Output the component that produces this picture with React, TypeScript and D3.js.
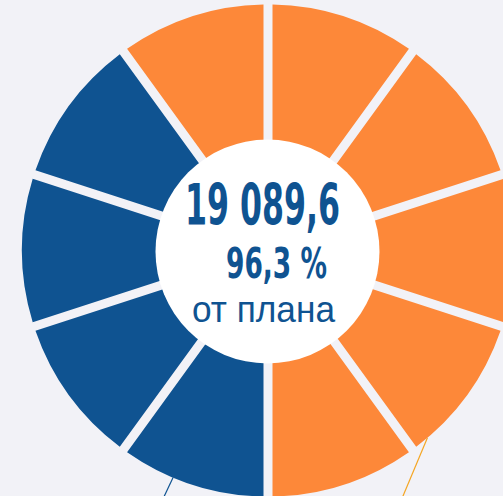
import React from "react";
import * as d3 from "d3";

// ---- data ----
const segmentValues = [1, 1, 1, 1, 1, 1, 1, 1, 1, 1];
const segmentSeries = ["fact", "fact", "fact", "fact", "fact", "fact", "rest", "rest", "rest", "rest"];
const totalLabel = "19 089,6";
const percentLabel = "96,3 %";
const captionLabel = "от плана";
// leader lines of (off-screen) labels: angle on the rim in degrees (clockwise from top)
const leaderAngles = [202.7, 139.6];
const leaderSeries = ["rest", "fact"];
const leaderSlopes = [-0.47, -0.42];

const W = 503;
const H = 496;
const cx = 268;
const cy = 250.5;
const outerR = 246;
const innerR = 90;
const holeR = 112;
const gap = 9;
const startDeg = -36;

const colors: Record<string, string> = { fact: "#FD8839", rest: "#0F5391" };
const leaderColors: Record<string, string> = { fact: "#F5A623", rest: "#0F5391" };
const bg = "#F2F2F7";

export default function App() {
  const pie = d3
    .pie<number>()
    .sort(null)
    .value((d) => d)
    .startAngle((startDeg * Math.PI) / 180)
    .endAngle(((startDeg + 360) * Math.PI) / 180);
  const arcs = pie(segmentValues);
  const arc = d3
    .arc<d3.PieArcDatum<number>>()
    .innerRadius(innerR)
    .outerRadius(outerR)
    .padAngle(gap / outerR)
    .padRadius(outerR);

  return (
    <svg
      width={W}
      height={H}
      style={{ position: "absolute", left: 0, top: 0, background: bg, display: "block" }}
    >
      <rect x={0} y={0} width={W} height={H} fill={bg} />
      {leaderAngles.map((a, i) => {
        const rad = (a * Math.PI) / 180;
        const x0 = cx + outerR * Math.sin(rad);
        const y0 = cy - outerR * Math.cos(rad);
        const y1 = H + 20;
        const x1 = x0 + leaderSlopes[i] * (y1 - y0);
        return (
          <line
            key={"l" + i}
            x1={x0}
            y1={y0}
            x2={x1}
            y2={y1}
            stroke={leaderColors[leaderSeries[i]]}
            strokeWidth={1.2}
          />
        );
      })}
      <g transform={`translate(${cx},${cy})`}>
        {arcs.map((a, i) => (
          <path key={i} d={arc(a) || ""} fill={colors[segmentSeries[i]]} />
        ))}
        <circle cx={-0.5} cy={1} r={holeR} fill="#FFFFFF" />
      </g>
      <text
        x={262.5}
        y={225}
        textAnchor="middle"
        fontFamily="'Liberation Sans Narrow', 'DejaVu Sans Condensed', 'Liberation Sans', sans-serif"
        fontWeight="bold"
        fontSize={57}
        fill="#0F5391"
        textLength={155}
        lengthAdjust="spacingAndGlyphs"
      >
        {totalLabel}
      </text>
      <text
        x={276.5}
        y={278}
        textAnchor="middle"
        fontFamily="'Liberation Sans Narrow', 'DejaVu Sans Condensed', 'Liberation Sans', sans-serif"
        fontWeight="bold"
        fontSize={43}
        fill="#0F5391"
        textLength={101}
        lengthAdjust="spacingAndGlyphs"
      >
        {percentLabel}
      </text>
      <text
        x={263.5}
        y={322}
        textAnchor="middle"
        fontFamily="'Liberation Sans', Arial, sans-serif"
        fontSize={36}
        fill="#0F5391"
        textLength={143}
        lengthAdjust="spacingAndGlyphs"
      >
        {captionLabel}
      </text>
    </svg>
  );
}
